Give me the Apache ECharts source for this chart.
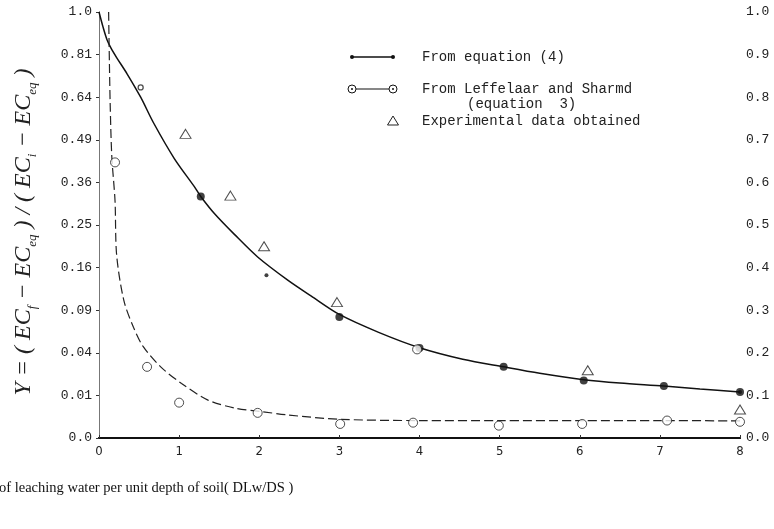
<!DOCTYPE html>
<html>
<head>
<meta charset="utf-8">
<script src="https://cdn.jsdelivr.net/npm/echarts@6/dist/echarts.min.js"></script>
<style>
html,body{margin:0;padding:0;background:#fff;}
#chart{width:774px;height:529px;}
</style>
</head>
<body>
<div id="chart"></div>
<script>
// x ticks
var xTickLabels = ['0','1','2','3','4','5','6','7','8'];
// left axis labels (Y values, square-root scale)
var leftTickLabels = ['0.0','0.01','0.04','0.09','0.16','0.25','0.36','0.49','0.64','0.81','1.0'];
// right axis labels (linear)
var rightTickLabels = ['0.0','0.1','0.2','0.3','0.4','0.5','0.6','0.7','0.8','0.9','1.0'];

// values read on the linear (right-hand) scale
var eqCurve = [[0,1.0],[0.05,0.965],[0.1,0.935],[0.15,0.915],[0.22,0.893],[0.35,0.855],[0.52,0.80],[0.68,0.74],[0.94,0.656],[1.19,0.59],[1.27,0.567],[1.44,0.527],[1.69,0.478],[1.98,0.425],[2.36,0.37],[2.65,0.333],[3.0,0.29],[3.49,0.248],[4.0,0.212],[4.54,0.185],[5.05,0.167],[5.5,0.152],[6.05,0.137],[6.5,0.129],[7.05,0.122],[7.5,0.115],[8.0,0.108]];
var eqDots = [[1.27,0.567],[3.0,0.284],[4.0,0.211],[5.05,0.167],[6.05,0.135],[7.05,0.122],[8.0,0.108]];
var eqSmallDots = [[2.09,0.382],[8.0,0.108]];

var leffCurve = [[0.12,1.0],[0.13,0.88],[0.14,0.78],[0.16,0.66],[0.2,0.557],[0.22,0.43],[0.31,0.323],[0.43,0.26],[0.55,0.215],[0.77,0.167],[1.03,0.128],[1.36,0.089],[1.7,0.07],[2.03,0.062],[2.36,0.054],[3.0,0.044],[4.0,0.041],[5.0,0.041],[6.0,0.041],[7.0,0.041],[8.0,0.04]];
var leffPoints = [[0.2,0.647],[0.6,0.167],[1.0,0.083],[1.98,0.059],[3.01,0.033],[3.92,0.036],[3.97,0.208],[4.99,0.029],[6.03,0.033],[7.09,0.041],[8.0,0.038]];
var leffSmall = [[0.52,0.823]];

var expPoints = [[1.08,0.714],[1.64,0.569],[2.06,0.45],[2.97,0.319],[6.1,0.159],[8.0,0.067]];

var legendLabels = ['From equation (4)','From Leffelaar and Sharmd','(equation  3)','Experimental data obtained'];
var yTitleParts = ['Y = ( EC','f',' − EC','eq',' ) / ( EC','i',' − EC','eq',' )'];
var xTitle = 'of leaching water per unit depth of soil( DLw/DS )';

var mono = '"Liberation Mono", "DejaVu Sans Mono", monospace';
var serif = '"Liberation Serif", "DejaVu Serif", serif';

var chart = echarts.init(document.getElementById('chart'));

var yRich = '';
for (var i = 0; i < yTitleParts.length; i++) {
  yRich += (i % 2 === 0 ? '{m|' : '{s|') + yTitleParts[i] + '}';
}

var hollow = 'rgba(0,0,0,0)';
var lx0 = 352, lx1 = 393, tx = 422;
var r1 = 57, r2 = 89, r3 = 104, r4 = 121;

var option = {
  animation: false,
  backgroundColor: '#fff',
  grid: {left: 99, right: 34, top: 12, bottom: 91},
  xAxis: [{
    type: 'value', min: 0, max: 8, interval: 1,
    axisLine: {lineStyle: {color: '#111', width: 2}},
    axisTick: {show: true, length: 3, inside: true, lineStyle: {color: '#333'}},
    axisLabel: {
      margin: 7, fontSize: 13, color: '#222',
      fontFamily: '"Liberation Sans Narrow", "DejaVu Sans Condensed", sans-serif',
      formatter: function (v) { return xTickLabels[Math.round(v)]; }
    },
    splitLine: {show: false}
  }, {
    type: 'value', min: 0, max: 8, interval: 1, position: 'top',
    axisLine: {show: true, lineStyle: {color: '#111', width: 2}},
    axisTick: {show: false}, axisLabel: {show: false}, splitLine: {show: false}
  }],
  yAxis: [{
    type: 'value', min: 0, max: 1, interval: 0.1, position: 'left',
    axisLine: {show: true, lineStyle: {color: '#666', width: 1}},
    axisTick: {show: true, length: 3, lineStyle: {color: '#333'}},
    axisLabel: {
      margin: 7, fontSize: 13, color: '#222', fontFamily: mono,
      formatter: function (v) { return leftTickLabels[Math.round(v * 10)]; }
    },
    splitLine: {show: false}
  }, {
    type: 'value', min: 0, max: 1, interval: 0.1, position: 'right',
    axisLine: {show: true, lineStyle: {color: '#777', width: 1}},
    axisTick: {show: true, length: 3, inside: true, lineStyle: {color: '#333'}},
    axisLabel: {
      margin: 6, fontSize: 13, color: '#222', fontFamily: mono,
      formatter: function (v) { return rightTickLabels[Math.round(v * 10)]; }
    },
    splitLine: {show: false}
  }],
  series: [{
    name: legendLabels[0], type: 'line', data: eqCurve, smooth: 0.3,
    showSymbol: false, lineStyle: {color: '#111', width: 1.5}, z: 3
  }, {
    type: 'scatter', data: eqDots, symbol: 'circle', symbolSize: 8,
    itemStyle: {color: '#111'}, z: 4
  }, {
    type: 'scatter', data: eqSmallDots, symbol: 'circle', symbolSize: 4,
    itemStyle: {color: '#111'}, z: 4
  }, {
    name: legendLabels[1], type: 'line', data: leffCurve, smooth: 0.3,
    showSymbol: false, lineStyle: {color: '#222', width: 1.2, type: [9, 4]}, z: 3
  }, {
    type: 'scatter', data: leffPoints, symbol: 'circle', symbolSize: 9,
    itemStyle: {color: '#fff', borderColor: '#222', borderWidth: 1}, z: 5
  }, {
    type: 'scatter', data: leffSmall, symbol: 'circle', symbolSize: 5,
    itemStyle: {color: hollow, borderColor: '#222', borderWidth: 1.3}, z: 5
  }, {
    name: legendLabels[3], type: 'scatter', data: expPoints, symbol: 'triangle', symbolSize: [11, 9],
    itemStyle: {color: hollow, borderColor: '#222', borderWidth: 1}, z: 5
  }],
  graphic: [
    // legend
    {type: 'line', shape: {x1: lx0, y1: r1, x2: lx1, y2: r1}, style: {stroke: '#111', lineWidth: 1.3}},
    {type: 'circle', shape: {cx: lx0, cy: r1, r: 2}, style: {fill: '#111'}},
    {type: 'circle', shape: {cx: lx1, cy: r1, r: 2}, style: {fill: '#111'}},
    {type: 'text', x: tx, y: r1, style: {text: legendLabels[0], font: '14px ' + mono, fill: '#222', verticalAlign: 'middle'}},
    {type: 'line', shape: {x1: lx0 + 4, y1: r2, x2: lx1 - 4, y2: r2}, style: {stroke: '#111', lineWidth: 1.2}},
    {type: 'circle', shape: {cx: lx0, cy: r2, r: 4}, style: {fill: '#fff', stroke: '#111', lineWidth: 1}},
    {type: 'circle', shape: {cx: lx1, cy: r2, r: 4}, style: {fill: '#fff', stroke: '#111', lineWidth: 1}},
    {type: 'circle', shape: {cx: lx0, cy: r2, r: 1}, style: {fill: '#111'}},
    {type: 'circle', shape: {cx: lx1, cy: r2, r: 1}, style: {fill: '#111'}},
    {type: 'text', x: tx, y: r2, style: {text: legendLabels[1], font: '14px ' + mono, fill: '#222', verticalAlign: 'middle'}},
    {type: 'text', x: tx + 45, y: r3, style: {text: legendLabels[2], font: '14px ' + mono, fill: '#222', verticalAlign: 'middle'}},
    {type: 'polygon', shape: {points: [[lx1, r4 - 5], [lx1 - 5.5, r4 + 4], [lx1 + 5.5, r4 + 4]]}, style: {fill: 'none', stroke: '#222', lineWidth: 1}},
    {type: 'text', x: tx, y: r4, style: {text: legendLabels[3], font: '14px ' + mono, fill: '#222', verticalAlign: 'middle'}},
    // y title
    {type: 'text', x: 24, y: 232, rotation: Math.PI / 2,
     style: {
       text: yRich, align: 'center', verticalAlign: 'middle', fill: '#222',
       rich: {
         m: {fontFamily: serif, fontStyle: 'italic', fontSize: 24, lineHeight: 30, fill: '#222'},
         s: {fontFamily: serif, fontStyle: 'italic', fontSize: 13, lineHeight: 30, verticalAlign: 'bottom', fill: '#222'}
       }
     }},
    // x title
    {type: 'text', x: -1, y: 488, style: {text: xTitle, font: '14.5px ' + serif, fill: '#111', verticalAlign: 'middle'}}
  ]
};
chart.setOption(option);
</script>
</body>
</html>
